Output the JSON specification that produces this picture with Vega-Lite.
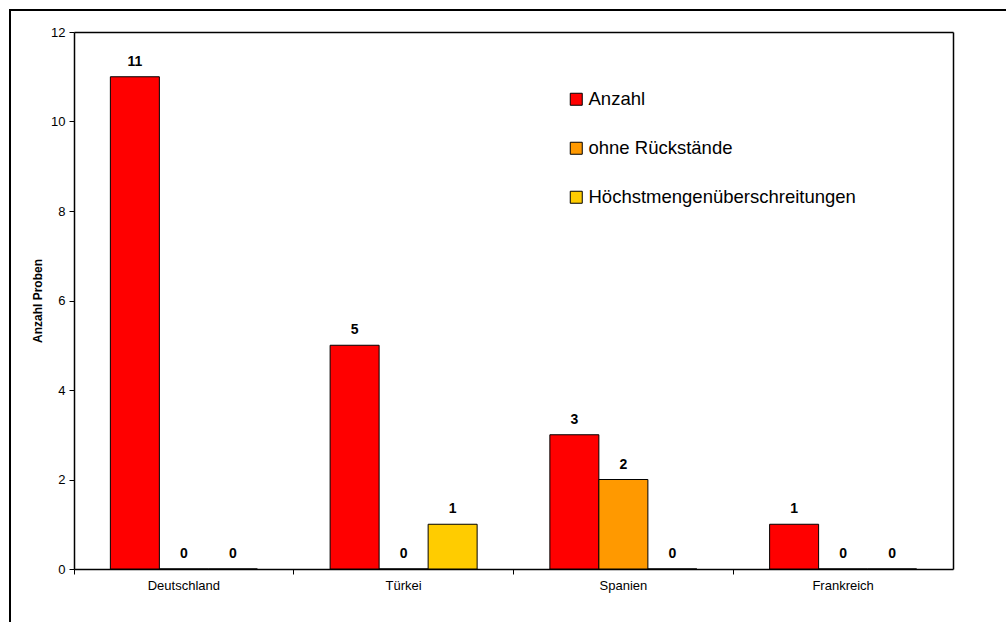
{
  "$schema": "https://vega.github.io/schema/vega-lite/v6.json",
  "autosize": "none",
  "padding": {"left": 10, "top": 10, "right": 0, "bottom": 0},
  "width": 1000,
  "height": 620,
  "background": "white",
  "config": {
    "view": {"stroke": "black", "strokeWidth": 2},
    "font": "Liberation Sans"
  },
  "data": {
    "values": [
      {"Land": "Deutschland", "Serie": "Anzahl", "Wert": 11},
      {"Land": "Deutschland", "Serie": "ohne Rückstände", "Wert": 0},
      {"Land": "Deutschland", "Serie": "Höchstmengenüberschreitungen", "Wert": 0},
      {"Land": "Türkei", "Serie": "Anzahl", "Wert": 5},
      {"Land": "Türkei", "Serie": "ohne Rückstände", "Wert": 0},
      {"Land": "Türkei", "Serie": "Höchstmengenüberschreitungen", "Wert": 1},
      {"Land": "Spanien", "Serie": "Anzahl", "Wert": 3},
      {"Land": "Spanien", "Serie": "ohne Rückstände", "Wert": 2},
      {"Land": "Spanien", "Serie": "Höchstmengenüberschreitungen", "Wert": 0},
      {"Land": "Frankreich", "Serie": "Anzahl", "Wert": 1},
      {"Land": "Frankreich", "Serie": "ohne Rückstände", "Wert": 0},
      {"Land": "Frankreich", "Serie": "Höchstmengenüberschreitungen", "Wert": 0}
    ]
  },
  "resolve": {"axis": {"x": "independent", "y": "independent"}},
  "layer": [
    {
      "mark": {"type": "bar", "stroke": "black", "strokeWidth": 1},
      "encoding": {
        "x": {
          "field": "Land", "type": "nominal", "sort": null,
          "scale": {"range": [64, 943], "paddingInner": 0, "paddingOuter": 0},
          "axis": {
            "orient": "bottom", "offset": -61, "title": null,
            "bandPosition": 0, "labelAngle": 0,
            "tickSize": 5, "tickColor": "black", "tickWidth": 1,
            "domainColor": "black", "domainWidth": 1.5,
            "labelFontSize": 13, "labelColor": "black", "labelPadding": 5,
            "grid": false
          }
        },
        "xOffset": {
          "field": "Serie", "type": "nominal",
          "sort": ["Anzahl", "ohne Rückstände", "Höchstmengenüberschreitungen"],
          "scale": {"paddingOuter": 0.742, "paddingInner": 0}
        },
        "y": {
          "field": "Wert", "type": "quantitative",
          "scale": {"domain": [0, 12], "range": [559, 22], "nice": false, "zero": true},
          "axis": {
            "orient": "left", "offset": -64, "title": "Anzahl Proben",
            "values": [0, 2, 4, 6, 8, 10, 12],
            "tickSize": 5, "tickColor": "black", "tickWidth": 1,
            "domainColor": "black", "domainWidth": 1.5,
            "labelFontSize": 13, "labelColor": "black", "labelPadding": 4,
            "titleFontSize": 12, "titleFontWeight": "bold", "titleColor": "black",
            "titlePadding": 6, "grid": false
          }
        },
        "color": {
          "field": "Serie", "type": "nominal",
          "sort": ["Anzahl", "ohne Rückstände", "Höchstmengenüberschreitungen"],
          "scale": {
            "domain": ["Anzahl", "ohne Rückstände", "Höchstmengenüberschreitungen"],
            "range": ["#FF0000", "#FF9900", "#FFCC00"]
          },
          "legend": {
            "orient": "none", "legendX": 557, "legendY": 80,
            "title": null, "symbolType": "square", "symbolSize": 144,
            "symbolStrokeColor": "black", "symbolStrokeWidth": 1, "symbolOpacity": 1,
            "labelFontSize": 18.5, "labelColor": "black", "labelOffset": 3, "labelLimit": 500,
            "rowPadding": 30, "padding": 0
          }
        }
      }
    },
    {
      "mark": {"type": "text", "fontWeight": "bold", "fontSize": 14, "baseline": "alphabetic", "dy": -11, "color": "black"},
      "encoding": {
        "x": {
          "field": "Land", "type": "nominal", "sort": null,
          "axis": {"orient": "top", "offset": -22, "title": null, "labels": false, "ticks": false, "domainColor": "black", "domainWidth": 1.5, "grid": false}
        },
        "xOffset": {
          "field": "Serie", "type": "nominal",
          "sort": ["Anzahl", "ohne Rückstände", "Höchstmengenüberschreitungen"]
        },
        "y": {
          "field": "Wert", "type": "quantitative",
          "axis": {"orient": "right", "offset": -57, "title": null, "labels": false, "ticks": false, "domainColor": "black", "domainWidth": 1.5, "grid": false}
        },
        "text": {"field": "Wert", "type": "quantitative"}
      }
    }
  ]
}
